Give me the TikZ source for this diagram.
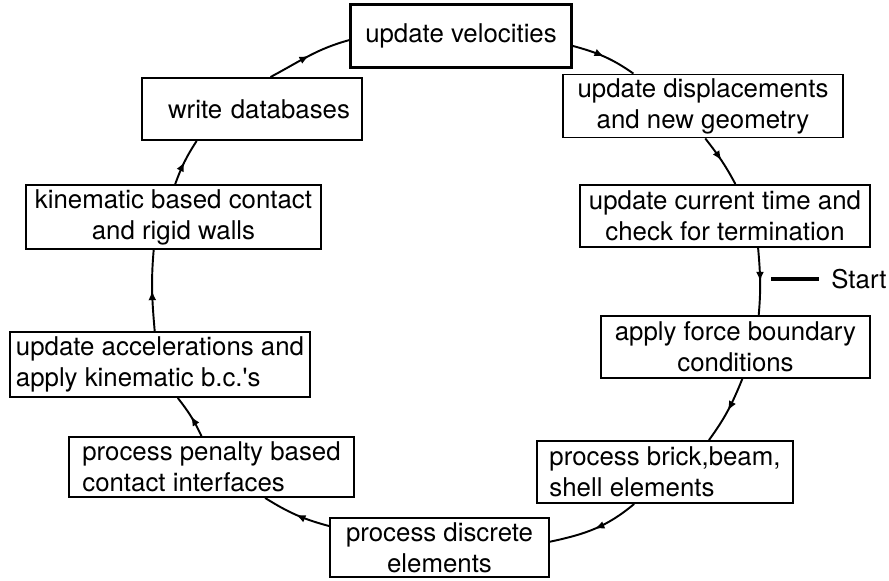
\documentclass[tikz,border=0pt]{standalone}
\usepackage{fontspec}
\setmainfont{TeX Gyre Heros}
\usetikzlibrary{arrows.meta,decorations.markings}
\tikzstyle{stepbox}=[draw,line width=1.1pt,fill=white,inner sep=0.5mm,minimum height=1.24cm,align=center,font=\fontsize{14.7}{17.6}\selectfont]
\tikzstyle{leftbox}=[stepbox,align=left]
\tikzstyle{edge}=[draw,line width=1.1pt,postaction={decorate},decoration={markings,mark=at position 0.5 with {\arrow{Latex[length=5.5pt,width=4.5pt]}}}]
\tikzstyle{startline}=[line width=2.2pt]
\tikzstyle{startlabel}=[inner xsep=0.24cm,anchor=west,font=\fontsize{14.7}{17.6}\selectfont]

\begin{document}
\begin{tikzpicture}[x=0.02cm,y=0.02cm]

    \useasboundingbox (0,0) rectangle (889,-581);

    % boxes round the cycle, text centred
    \foreach \name/\x/\y/\w/\h/\txt in {vel/461/36/4.4/1.24/{update velocities},
        disp/703/106/5.6/1.26/{update displacements\\and new geometry},
        time/725/216/5.8/1.24/{update current time and\\check for termination},
        force/735.5/347/5.38/1.24/{apply force boundary\\conditions},
        discrete/439.5/547.5/4.38/1.18/{process discrete\\elements},
        kin/173.5/217/5.9/1.28/{kinematic based contact\\and rigid walls}}
        \node[stepbox, minimum width=\w cm, minimum height=\h cm] (\name) at (\x,-\y) {\txt};

    % boxes with ragged text
    \foreach \name/\x/\y/\w/\h/\txt in {brick/665/472/5.12/1.24/{process brick,beam,\\shell elements},
        penalty/211.5/467/5.7/1.2/{process penalty based\\contact interfaces},
        accel/160/364.5/6.0/1.3/{update accelerations and\\apply kinematic b.c.\textquotesingle s}}
        \node[leftbox, minimum width=\w cm, minimum height=\h cm] (\name) at (\x,-\y) {\txt};

    \node[stepbox, text width=3.92cm, inner xsep=0.24cm, align=right] (write) at (252,-109) {write databases};

    \draw[line width=1.6pt] (vel.south west) rectangle (vel.north east);

    % the loop, one arc per step
    \foreach \source/\sa/\dest/\da/\outang/\inang in {write/60/vel/182/28/195,
        vel/-5/disp/155/-15/145,
        disp/-86/time/72/-52/118,
        time/-44/force/54/-85/85,
        force/-78/brick/36/-112/54,
        brick/-134/discrete/3/-140/12,
        discrete/169/penalty/-30/165/-32,
        penalty/108/accel/-62/115/-52,
        accel/99/kin/-121/95/-95,
        kin/87/write/-150/70/-123}
        \path[edge] (\source.\sa) to[out=\outang, in=\inang] (\dest.\da);

    \coordinate (startmark) at (771,-279);
    \node[startlabel] (start) at (819,-279) {Start};
    \draw[startline] (startmark) -- (start.west);

\end{tikzpicture}
\end{document}
